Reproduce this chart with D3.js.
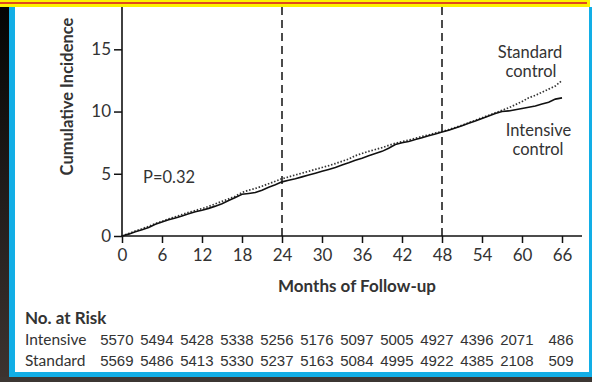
<!DOCTYPE html>
<html>
<head>
<meta charset="utf-8">
<script src="https://cdn.jsdelivr.net/npm/d3@7"></script>
<style>
  html, body { margin: 0; padding: 0; background: #fff; }
  svg { display: block; }
  text { font-family: Lato, "Open Sans", sans-serif; fill: #333; }
  .num { font-family: "Liberation Sans Narrow", "Liberation Sans", sans-serif; }
</style>
</head>
<body>
<svg id="chart" width="592" height="382"></svg>
<script>
// Follow-up months (x ticks and risk-table columns)
const monthTicks = [0, 6, 12, 18, 24, 30, 36, 42, 48, 54, 60, 66];
const incidenceTicks = [0, 5, 10, 15];

// Cumulative incidence (%) read at each month 0..66
const months = d3.range(0, 67);
const intensive = [
  0, 0.15, 0.35, 0.5, 0.68, 0.95, 1.12, 1.3, 1.45, 1.6,
  1.78, 1.95, 2.07, 2.22, 2.4, 2.6, 2.85, 3.1, 3.35, 3.42,
  3.5, 3.68, 3.92, 4.12, 4.35, 4.48, 4.6, 4.75, 4.9, 5.05,
  5.2, 5.35, 5.5, 5.7, 5.88, 6.08, 6.25, 6.45, 6.62, 6.8,
  7.05, 7.35, 7.5, 7.6, 7.75, 7.9, 8.05, 8.2, 8.36, 8.5,
  8.68, 8.85, 9.05, 9.25, 9.45, 9.65, 9.85, 10.0, 10.05, 10.15,
  10.25, 10.35, 10.45, 10.6, 10.75, 11.0, 11.1
];
const standard = [
  0, 0.2, 0.4, 0.58, 0.78, 1.0, 1.18, 1.38, 1.55, 1.72,
  1.9, 2.05, 2.2, 2.38, 2.58, 2.78, 2.98, 3.2, 3.5, 3.68,
  3.82, 4.0, 4.2, 4.4, 4.6, 4.75, 4.9, 5.05, 5.2, 5.35,
  5.5, 5.65, 5.82, 6.0, 6.18, 6.45, 6.63, 6.8, 6.95, 7.1,
  7.28, 7.45, 7.58, 7.7, 7.85, 8.0, 8.12, 8.28, 8.4, 8.55,
  8.72, 8.9, 9.1, 9.3, 9.5, 9.7, 9.9, 10.1, 10.3, 10.55,
  10.8, 11.1, 11.3, 11.55, 11.8, 12.05, 12.5
];

// Number at risk under each month tick
const intensiveRisk = [5570, 5494, 5428, 5338, 5256, 5176, 5097, 5005, 4927, 4396, 2071, 486];
const standardRisk  = [5569, 5486, 5413, 5330, 5237, 5163, 5084, 4995, 4922, 4385, 2108, 509];

const markers = [24, 48];

const svg = d3.select("#chart");

// ---- page frame ----
const defs = svg.append("defs");
const grad = defs.append("linearGradient").attr("id", "leftStrip")
  .attr("x1", 0).attr("y1", 0).attr("x2", 0).attr("y2", 1);
grad.append("stop").attr("offset", "0%").attr("stop-color", "#030303");
grad.append("stop").attr("offset", "100%").attr("stop-color", "#3d3430");

svg.append("rect").attr("x", 0).attr("y", 0).attr("width", 592).attr("height", 382).attr("fill", "#fff");
svg.append("rect").attr("x", 0).attr("y", 0).attr("width", 9).attr("height", 382).attr("fill", "url(#leftStrip)");
svg.append("rect").attr("x", 0).attr("y", 377).attr("width", 592).attr("height", 5).attr("fill", "#3c3632");
svg.append("rect").attr("x", 9).attr("y", 7).attr("width", 6).attr("height", 370).attr("fill", "#12aee6");
svg.append("rect").attr("x", 589).attr("y", 7).attr("width", 3).attr("height", 370).attr("fill", "#12aee6");
svg.append("rect").attr("x", 9).attr("y", 372).attr("width", 583).attr("height", 5).attr("fill", "#12aee6");
svg.append("rect").attr("x", 0).attr("y", 0).attr("width", 590).attr("height", 7).attr("fill", "#fdf200");
svg.append("rect").attr("x", 0).attr("y", 2).attr("width", 587).attr("height", 2).attr("fill", "#e0481e");

// ---- scales ----
const x = d3.scaleLinear().domain([0, 66]).range([122, 562]);
const y = d3.scaleLinear().domain([0, 18.4]).range([236, 7]);

// ---- axes ----
const xAxis = svg.append("g").attr("transform", `translate(0,${y(0)})`)
  .call(d3.axisBottom(x).tickValues(monthTicks).tickSize(7).tickSizeOuter(0).tickPadding(6));
xAxis.select(".domain").remove();
xAxis.selectAll(".tick line").attr("stroke", "#111").attr("stroke-width", 1.5);
xAxis.selectAll(".tick text").attr("font-size", 17).attr("font-family", "Lato").attr("fill", "#333");

const yAxis = svg.append("g").attr("transform", `translate(${x(0)},0)`)
  .call(d3.axisLeft(y).tickValues(incidenceTicks).tickSize(8).tickSizeOuter(0).tickPadding(3));
yAxis.select(".domain").remove();
yAxis.selectAll(".tick line").attr("stroke", "#111").attr("stroke-width", 1.5);
yAxis.selectAll(".tick text").attr("font-size", 17).attr("font-family", "Lato").attr("fill", "#333");

svg.append("line").attr("x1", x(0)).attr("x2", x(0)).attr("y1", y(18.4)).attr("y2", y(0) + 0.75)
  .attr("stroke", "#111").attr("stroke-width", 1.6);
svg.append("line").attr("x1", x(0) - 0.75).attr("x2", x(69)).attr("y1", y(0)).attr("y2", y(0))
  .attr("stroke", "#111").attr("stroke-width", 1.6);

// dashed reference lines at 24 and 48 months
svg.selectAll("line.marker").data(markers).join("line").attr("class", "marker")
  .attr("x1", d => x(d)).attr("x2", d => x(d))
  .attr("y1", y(18.4)).attr("y2", y(0))
  .attr("stroke", "#111").attr("stroke-width", 1.5).attr("stroke-dasharray", "8,5");

// ---- curves ----
const line = d3.line().x((d, i) => x(months[i])).y(d => y(d));
svg.append("path").datum(standard).attr("d", line)
  .attr("fill", "none").attr("stroke", "#333").attr("stroke-width", 1.7)
  .attr("stroke-dasharray", "1.5,1.8");
svg.append("path").datum(intensive).attr("d", line)
  .attr("fill", "none").attr("stroke", "#111").attr("stroke-width", 1.6);

// ---- labels ----
const lbl = (t, xx, yy, anchor, size, weight) =>
  svg.append("text").attr("x", xx).attr("y", yy).attr("text-anchor", anchor || "start")
    .attr("font-size", size || 16.5).attr("font-weight", weight || "normal").text(t);

lbl("Standard", 530, 58, "middle");
lbl("control", 531, 77, "middle");
lbl("Intensive", 538.5, 136, "middle");
lbl("control", 538, 155, "middle");
lbl("P=0.32", 143, 183);

svg.append("text").attr("transform", "translate(72.5,96.5) rotate(-90)")
  .attr("text-anchor", "middle").attr("font-size", 16.5).attr("font-weight", "bold")
  .attr("fill", "#222").text("Cumulative Incidence");

lbl("Months of Follow-up", 357, 292, "middle", 17, "bold").attr("fill", "#222");
lbl("No. at Risk", 25, 324, "start", 17, "bold").attr("fill", "#222");
lbl("Intensive", 25, 345, "start", 15.5);
lbl("Standard", 25, 365.5, "start", 15.5);

// ---- number at risk table ----
const riskRows = [[intensiveRisk, 345], [standardRisk, 365.5]];
riskRows.forEach(([vals, yy]) => {
  svg.append("g").selectAll("text").data(vals).join("text")
    .attr("class", "num")
    .attr("x", (d, i) => x(monthTicks[i]) + 11.5)
    .attr("y", yy).attr("text-anchor", "end").attr("font-size", 15)
    .text(d => d);
});
</script>
</body>
</html>
